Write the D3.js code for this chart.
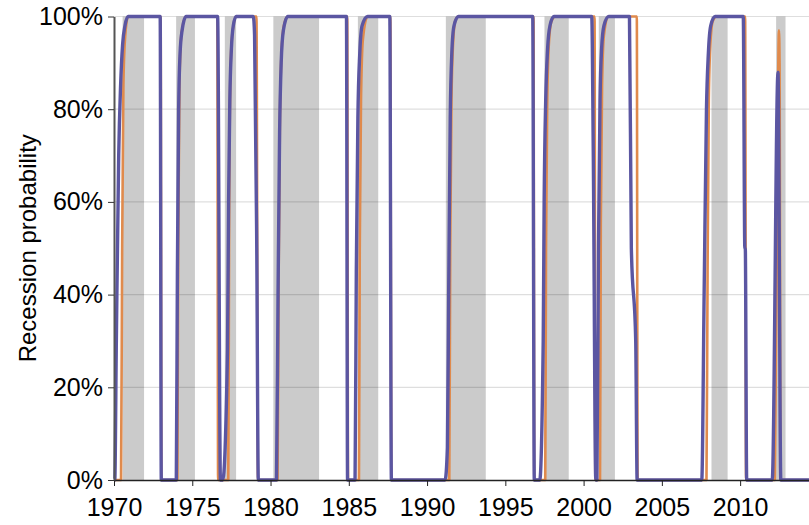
<!DOCTYPE html>
<html>
<head>
<meta charset="utf-8">
<script src="https://d3js.org/d3.v7.min.js"></script>
<style>
  body { margin: 0; background: #fff; }
  svg text { font-family: "Liberation Sans", Arial, Helvetica, sans-serif; }
</style>
</head>
<body>
<svg id="chart" width="809" height="525"></svg>
<script>
// shaded periods (decimal years)
var bandStart = [1970.55, 1973.97, 1977.08, 1980.18, 1985.58, 1991.2, 1997.5, 2000.97, 2008.17, 2012.3];
var bandEnd   = [1971.92, 1975.17, 1977.8, 1983.1, 1986.88, 1993.75, 1999.05, 2002.0, 2009.2, 2012.9];

// purple series: [year, probability %]
var purpleSeries = [
  [1970.0,0],[1970.05,0],[1970.15,30],[1970.3,70],[1970.42,85],[1970.55,94],[1970.7,98],[1970.9,100],
  [1972.95,100],[1973.02,0],
  [1973.98,0],[1974.05,45],[1974.13,80],[1974.22,92],[1974.35,97],[1974.6,100],
  [1976.62,100],[1976.8,0],[1976.95,0],[1977.25,28],[1977.32,60],[1977.4,82],[1977.5,93],[1977.62,98],[1977.8,100],
  [1978.9,100],[1978.98,96],[1979.12,50],[1979.22,0],
  [1980.38,0],[1980.48,40],[1980.58,75],[1980.68,90],[1980.82,97],[1981.1,100],
  [1984.85,100],[1984.92,0],
  [1985.4,0],[1985.48,45],[1985.58,78],[1985.7,92],[1985.85,98],[1986.2,100],
  [1987.62,100],[1987.72,0],
  [1991.15,0],[1991.3,7],[1991.38,40],[1991.48,78],[1991.58,92],[1991.72,98],[1992.0,100],
  [1996.75,100],[1996.85,0],
  [1997.2,0],[1997.42,30],[1997.48,60],[1997.58,82],[1997.7,93],[1997.85,98],[1998.1,100],
  [2000.52,100],[2000.62,70],[2000.78,0],[2000.85,0],[2000.95,50],[2001.05,82],[2001.15,93],[2001.3,98],[2001.6,100],
  [2002.93,100],[2003.05,50],[2003.33,30],[2003.42,0],
  [2007.55,0],[2007.7,40],[2007.85,80],[2007.97,92],[2008.12,98],[2008.4,100],
  [2010.2,100],[2010.3,50],[2010.33,50],[2010.42,0],
  [2012.05,0],[2012.42,88],[2012.6,0],
  [2014.4,0]
];

// orange series: [year, probability %]
var orangeSeries = [
  [1970.0,0],[1970.45,0],[1970.52,50],[1970.6,85],[1970.7,95],[1970.9,100],
  [1972.98,100],[1973.03,0],
  [1974.05,0],[1974.1,50],[1974.18,85],[1974.3,96],[1974.6,100],
  [1976.6,100],[1976.65,0],
  [1977.3,0],[1977.36,60],[1977.44,88],[1977.55,96],[1977.8,100],
  [1979.1,100],[1979.2,0],
  [1980.45,0],[1980.52,45],[1980.6,78],[1980.7,92],[1980.85,98],[1981.1,100],
  [1984.9,100],[1984.95,0],
  [1985.65,0],[1985.7,50],[1985.78,82],[1985.9,95],[1986.2,100],
  [1987.65,100],[1987.72,0],
  [1991.42,0],[1991.48,50],[1991.56,82],[1991.66,94],[1991.8,99],[1992.0,100],
  [1996.8,100],[1996.85,0],
  [1997.55,0],[1997.6,50],[1997.68,82],[1997.78,94],[1997.95,99],[1998.2,100],
  [2000.7,100],[2000.75,0],
  [2001.05,0],[2001.1,55],[2001.18,85],[2001.3,96],[2001.6,100],
  [2003.4,100],[2003.45,0],
  [2007.85,0],[2007.92,45],[2008.0,82],[2008.1,94],[2008.25,99],[2008.5,100],
  [2010.32,100],[2010.38,0],
  [2012.22,0],[2012.4,78],[2012.45,93],[2012.48,97],[2012.52,90],[2012.58,0],
  [2014.4,0]
];

var xTicks = [1970, 1975, 1980, 1985, 1990, 1995, 2000, 2005, 2010];
var yTicks = [0, 20, 40, 60, 80, 100];

var svg = d3.select("#chart");
var plotLeft = 114, plotRight = 809, plotTop = 16.5, plotBottom = 480;

var x = d3.scaleLinear().domain([1970, 2014.4]).range([plotLeft, plotRight]);
var y = d3.scaleLinear().domain([0, 100]).range([plotBottom, plotTop]);

// bands
svg.append("g").selectAll("rect")
  .data(bandStart)
  .enter().append("rect")
  .attr("x", function(d){ return x(d); })
  .attr("y", plotTop)
  .attr("width", function(d, i){ return x(bandEnd[i]) - x(d); })
  .attr("height", plotBottom - plotTop)
  .attr("fill", "#cbcbcb");

// gridlines
svg.append("g").selectAll("line")
  .data(yTicks.filter(function(d){ return d > 0; }))
  .enter().append("line")
  .attr("x1", plotLeft).attr("x2", plotRight)
  .attr("y1", function(d){ return y(d); })
  .attr("y2", function(d){ return y(d); })
  .attr("stroke", "#000")
  .attr("stroke-opacity", 0.13)
  .attr("stroke-width", 1.2);

var line = d3.line()
  .curve(d3.curveMonotoneX)
  .x(function(d){ return x(d[0]); })
  .y(function(d){ return y(d[1]); });

svg.append("path")
  .datum(orangeSeries)
  .attr("d", line)
  .attr("fill", "none")
  .attr("stroke", "#e08a4c")
  .attr("stroke-width", 2.6)
  .attr("stroke-linejoin", "round");

svg.append("path")
  .datum(purpleSeries)
  .attr("d", line)
  .attr("fill", "none")
  .attr("stroke", "#5b56a2")
  .attr("stroke-width", 3.4)
  .attr("stroke-linejoin", "round");

// axes
var xAxis = svg.append("g")
  .attr("transform", "translate(0," + plotBottom + ")")
  .call(d3.axisBottom(x).tickValues(xTicks).tickFormat(d3.format("d")).tickSize(6).tickSizeOuter(0));
xAxis.select(".domain").attr("stroke", "#222").attr("stroke-width", 1.3);
xAxis.selectAll(".tick line").attr("stroke", "#222");
xAxis.selectAll("text").attr("font-size", "25px").attr("fill", "#000")
  .attr("y", 36).attr("dy", 0)
  .style("font-family", "'Liberation Sans', Arial, sans-serif");

var yAxis = svg.append("g")
  .attr("transform", "translate(" + plotLeft + ",0)")
  .call(d3.axisLeft(y).tickValues(yTicks).tickFormat(function(d){ return d + "%"; }).tickSize(6).tickSizeOuter(0));
yAxis.select(".domain").attr("stroke", "#555").attr("stroke-width", 2);
yAxis.selectAll(".tick line").attr("stroke", "#333");
yAxis.selectAll("text").attr("font-size", "25px").attr("fill", "#000").attr("x", -11)
  .style("font-family", "'Liberation Sans', Arial, sans-serif");

svg.append("text")
  .attr("transform", "translate(36," + ((plotTop + plotBottom) / 2) + ") rotate(-90)")
  .attr("text-anchor", "middle")
  .attr("font-size", "24px")
  .attr("fill", "#000")
  .text("Recession probability");
</script>
</body>
</html>
